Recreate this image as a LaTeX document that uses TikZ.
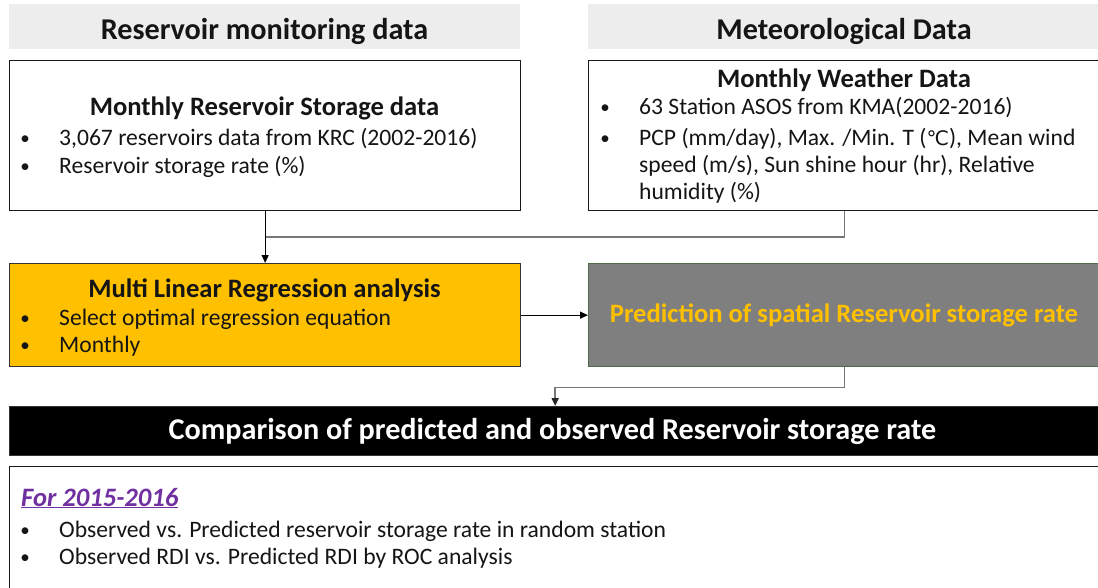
\documentclass[tikz,border=0pt]{standalone}
\usepackage{fontspec}
\setmainfont{Carlito}
\newfontfamily\symfont{DejaVu Sans}
\usetikzlibrary{arrows.meta}
\definecolor{hdrgray}{HTML}{EDEDED}
\definecolor{amber}{HTML}{FFC000}
\definecolor{predgray}{HTML}{7F7F7F}
\definecolor{prededge}{HTML}{4E6B48}
\definecolor{linegray}{HTML}{777777}
\definecolor{purp}{HTML}{7030A0}
\definecolor{txt}{HTML}{151515}
\begin{document}
\begin{tikzpicture}[x=1pt,y=-1pt,
  hdr/.style={fill=hdrgray, draw=none, anchor=north west, inner sep=0, minimum height=45pt},
  hdrtext/.style={anchor=base, inner sep=0, text=txt, font=\fontsize{30.2}{36}\selectfont\bfseries},
  boxw/.style={draw=black!90, line width=1.3pt, fill=white, anchor=north west, inner sep=0},
  title/.style={anchor=base, inner sep=0, text=txt, font=\fontsize{26.6}{32}\selectfont\bfseries},
  body/.style={anchor=base west, inner sep=0, text=txt, font=\fontsize{23.6}{28}\selectfont},
  bul/.style={anchor=base, inner sep=0, text=txt, font=\fontsize{19}{24}\selectfont},
  arr/.style={draw=black, line width=1.2pt, -{Triangle[length=8pt,width=7pt]}},
  gline/.style={draw=linegray, line width=1.6pt},
  garr/.style={draw=linegray, line width=1.6pt, -{Triangle[length=8pt,width=7pt,color=black!85]}}
]
\useasboundingbox (0,0) rectangle (1098,587);

% headers
\node[hdr, minimum width=511pt] (h1) at (9,4) {};
\node[hdr, minimum width=512pt] (h2) at (588,4) {};
\node[hdrtext] (h1t) at (264.5,39) {Reservoir monitoring data};
\node[hdrtext] (h2t) at (844,39) {Meteorological Data};

% boxes
\node[boxw, minimum width=511pt, minimum height=150pt] (box1) at (9,60) {};
\node[boxw, minimum width=512pt, minimum height=150pt] (box2) at (588,60) {};
\node[boxw, fill=amber, draw=black!80, minimum width=511pt, minimum height=103pt] (mlr) at (9,263) {};
\node[boxw, fill=predgray, draw=prededge, minimum width=512pt, minimum height=103pt] (pred) at (588,263) {};
\node[boxw, fill=black, draw=black!80, minimum width=1091pt, minimum height=49pt] (bar) at (9,406) {};
\node[boxw, minimum width=1091pt, minimum height=140pt] (res) at (9,466) {};

% box1 text
\node[title] (b1t) at (264.5,115) {Monthly Reservoir Storage data};
\node[bul] (b1b1) at (25,144) {•};
\node[body] (b1l1) at (59,145) {3,067 reservoirs data from KRC (2002-2016)};
\node[bul] (b1b2) at (25,172) {•};
\node[body] (b1l2) at (59,173) {Reservoir storage rate (\%)};

% box2 text
\node[title] (b2t) at (844,87) {Monthly Weather Data};
\node[bul] (b2b1) at (605,113) {•};
\node[body] (b2l1) at (639,114) {63 Station ASOS from KMA(2002-2016)};
\node[bul] (b2b2) at (605,144) {•};
\node[body] (b2l2) at (639,145) {PCP (mm/day), Max. /Min. T ({\symfont\fontsize{20}{24}\selectfont ℃}), Mean wind};
\node[body] (b2l3) at (639,172) {speed (m/s), Sun shine hour (hr), Relative};
\node[body] (b2l4) at (639,199) {humidity (\%)};

% mlr text
\node[title] (mt) at (264.5,297) {Multi Linear Regression analysis};
\node[bul] (mb1) at (25,324) {•};
\node[body] (ml1) at (59,325) {Select optimal regression equation};
\node[bul] (mb2) at (25,351) {•};
\node[body] (ml2) at (59,352) {Monthly};

% prediction text
\node[title, text=amber] (pt) at (844,322) {Prediction of spatial Reservoir storage rate};

% bar text
\node[hdrtext, text=white] (bt) at (552.5,439) {Comparison of predicted and observed Reservoir storage rate};

% result text
\node[anchor=base west, inner sep=0, text=purp, font=\fontsize{26.6}{32}\selectfont\bfseries\itshape] (rt) at (21,506) {\underline{For 2015-2016}};
\node[bul] (rb1) at (25,536) {•};
\node[body] (rl1) at (59,537) {Observed vs. Predicted reservoir storage rate in random station};
\node[bul] (rb2) at (25,563) {•};
\node[body] (rl2) at (59,564) {Observed RDI vs. Predicted RDI by ROC analysis};

% connectors
\coordinate (j1) at (264.5,237);
\draw[gline] (box2.south) |- (j1);
\draw[arr] (box1.south) -- (mlr.north);
\draw[arr] (mlr.east) -- (pred.west);
\draw[garr] (pred.south) -- ++(0,20) -| (bar.north);
\end{tikzpicture}
\end{document}
